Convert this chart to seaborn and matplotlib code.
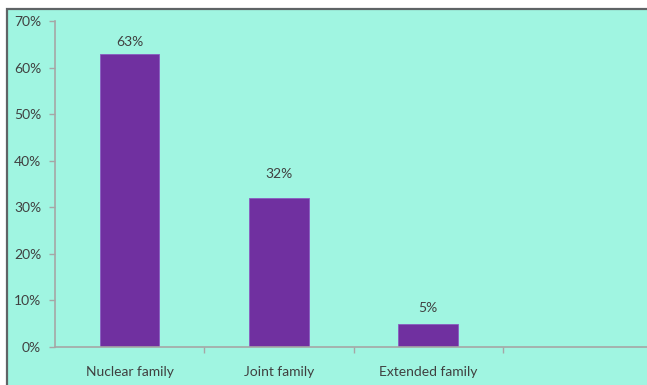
import matplotlib
matplotlib.use("Agg")
import matplotlib.pyplot as plt
from matplotlib.patches import Rectangle
from matplotlib.ticker import FixedLocator, PercentFormatter
import seaborn as sns

# Family type distribution
categories = ["Nuclear family", "Joint family", "Extended family"]
shares = [63, 32, 5]          # percent of respondents
y_ticks = [0, 10, 20, 30, 40, 50, 60, 70]

sns.set_style("white")
plt.rcParams["font.family"] = ["Lato", "DejaVu Sans"]

DPI = 100
W, H = 647, 385
mint = "#a0f5e1"
purple = "#7030a0"
axis_grey = "#a6a6a6"
text_grey = "#404040"
FS = 10

fig = plt.figure(figsize=(W / DPI, H / DPI), dpi=DPI, facecolor="white")

# Chart panel with a dark frame on its top and left edges
panel = Rectangle((6.5 / W, -0.05), 1.1, 1.05 - 9.5 / H,
                  transform=fig.transFigure, facecolor=mint,
                  edgecolor="#5f6466", linewidth=1.6, zorder=-10)
fig.patches.append(panel)

ax = fig.add_axes([55 / W, 38 / H, (652 - 55) / W, (364 - 38) / H])
ax.set_facecolor("none")
ax.set_zorder(1)

sns.barplot(x=categories, y=shares, width=0.4, color=purple,
            saturation=1, edgecolor="#8a5cc0", linewidth=0.6, ax=ax)

ax.set_xlim(-0.5, 3.5)
ax.set_ylim(0, 70)
ax.set_yticks(y_ticks)
ax.yaxis.set_major_formatter(PercentFormatter(decimals=0))

# Category labels centred under bars, tick marks on the slot boundaries
ax.xaxis.set_minor_locator(FixedLocator([0.5, 1.5, 2.5, 3.5]))
ax.tick_params(axis="x", which="major", bottom=True, length=0, pad=14,
               labelsize=FS, labelcolor=text_grey)
ax.tick_params(axis="x", which="minor", bottom=True, length=4, width=1,
               color=axis_grey, direction="out")
ax.tick_params(axis="y", which="major", left=True, length=4, width=1,
               color=axis_grey, direction="out", pad=6,
               labelsize=FS, labelcolor=text_grey)
ax.set_xlabel("")
ax.set_ylabel("")

for side in ("top", "right"):
    ax.spines[side].set_visible(False)
for side in ("left", "bottom"):
    ax.spines[side].set_color(axis_grey)
    ax.spines[side].set_linewidth(1.2)

# Value labels above each bar
label_offsets = [4.0, 13.0, 7.0]  # points
for bar, val, off in zip(ax.patches, shares, label_offsets):
    ax.annotate(f"{val}%", (bar.get_x() + bar.get_width() / 2, bar.get_height()),
                xytext=(0, off), textcoords="offset points",
                ha="center", va="bottom", fontsize=FS, color=text_grey)

fig.savefig("out.png", dpi=DPI, facecolor="white")
